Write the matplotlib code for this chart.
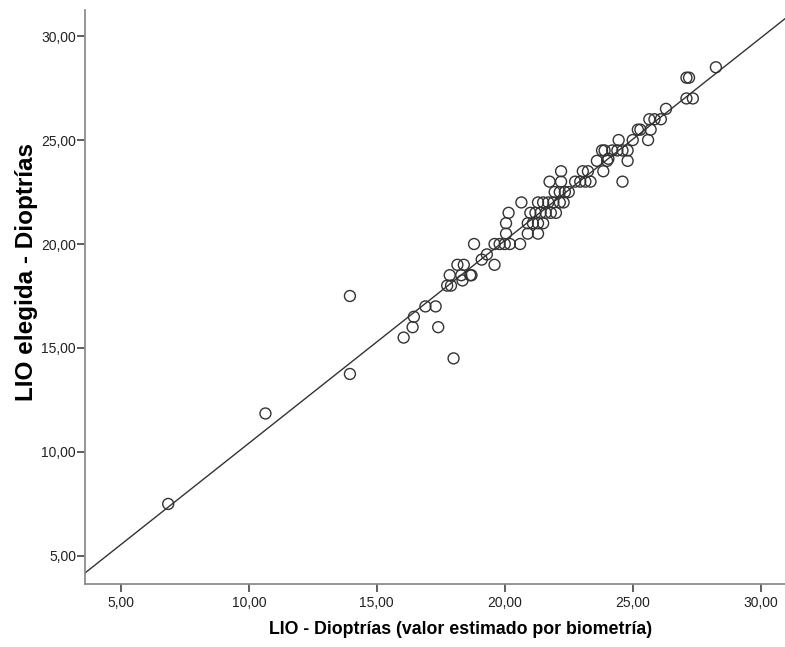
import numpy as np
import matplotlib.pyplot as plt
from matplotlib.ticker import FuncFormatter

plt.rcParams['font.family'] = ['Liberation Sans', 'DejaVu Sans']

# LIO estimated by biometry (x) vs. LIO chosen (y), in dioptres
lio_estimada = [
    6.85, 10.65, 13.95, 13.95, 16.05, 16.4, 16.45, 16.9, 17.3, 17.4,
    18.0, 17.75, 17.9, 17.85, 18.15, 18.3, 18.35, 18.4, 18.65, 18.7,
    18.8, 19.1, 19.3, 19.6, 19.6, 19.8, 20.0, 20.2, 20.6, 20.05,
    20.9, 21.3, 20.05, 20.9, 21.1, 21.3, 21.5, 20.15, 21.0, 21.2,
    21.4, 21.6, 21.8, 22.0, 20.65, 21.3, 21.5, 21.7, 21.9, 22.15,
    22.3, 21.95, 22.15, 22.35, 22.5, 21.75, 22.2, 22.75, 22.95, 23.15,
    23.35, 22.2, 23.05, 23.25, 23.85, 24.6, 23.6, 24.0, 24.05, 24.8,
    23.8, 23.9, 24.2, 24.4, 24.6, 24.8, 24.45, 25.0, 25.6, 25.2,
    25.3, 25.7, 25.65, 25.85, 26.1, 26.3, 27.1, 27.35, 27.1, 27.2,
    28.25,
]
lio_elegida = [
    7.5, 11.85, 17.5, 13.75, 15.5, 16.0, 16.5, 17.0, 17.0, 16.0,
    14.5, 18.0, 18.0, 18.5, 19.0, 18.5, 18.25, 19.0, 18.5, 18.5,
    20.0, 19.25, 19.5, 19.0, 20.0, 20.0, 20.0, 20.0, 20.0, 20.5,
    20.5, 20.5, 21.0, 21.0, 21.0, 21.0, 21.0, 21.5, 21.5, 21.5,
    21.5, 21.5, 21.5, 21.5, 22.0, 22.0, 22.0, 22.0, 22.0, 22.0,
    22.0, 22.5, 22.5, 22.5, 22.5, 23.0, 23.0, 23.0, 23.0, 23.0,
    23.0, 23.5, 23.5, 23.5, 23.5, 23.0, 24.0, 24.0, 24.1, 24.0,
    24.5, 24.5, 24.5, 24.5, 24.5, 24.5, 25.0, 25.0, 25.0, 25.5,
    25.5, 25.5, 26.0, 26.0, 26.0, 26.5, 27.0, 27.0, 28.0, 28.0,
    28.5,
]

x = np.array(lio_estimada)
y = np.array(lio_elegida)

fig = plt.figure(figsize=(7.85, 6.47), dpi=100)
ax = fig.add_axes([0.1083, 0.0974, 0.8917, 0.887])

ax.scatter(x, y, s=62, facecolors='none', edgecolors='#333333',
           linewidths=1.0, zorder=3)

# linear fit line across the whole axis
slope, intercept = np.polyfit(x, y, 1)
xlim = (3.6, 30.95)
xs = np.array(xlim)
ax.plot(xs, slope * xs + intercept, color='#333333', lw=1.0, zorder=2)

ax.set_xlim(*xlim)
ax.set_ylim(3.65, 31.25)
ax.set_xticks([5, 10, 15, 20, 25, 30])
ax.set_yticks([5, 10, 15, 20, 25, 30])
fmt = FuncFormatter(lambda v, p: f'{v:.2f}'.replace('.', ','))
ax.xaxis.set_major_formatter(fmt)
ax.yaxis.set_major_formatter(fmt)

for side in ['top', 'right']:
    ax.spines[side].set_visible(False)
for side in ['left', 'bottom']:
    ax.spines[side].set_color('#8c8c8c')
    ax.spines[side].set_linewidth(1.3)

ax.tick_params(direction='out', length=6, width=1.1, color='#333333',
               labelsize=10, labelcolor='#222222')
ax.tick_params(axis='y', pad=0.5)
ax.tick_params(axis='x', pad=3)

ax.set_xlabel('LIO - Dioptrías (valor estimado por biometría)',
              fontsize=12.8, fontweight='bold')
ax.xaxis.set_label_coords(0.537, -0.064)
ax.set_ylabel('LIO elegida - Dioptrías', fontsize=17.5, fontweight='bold')
ax.yaxis.set_label_coords(-0.067, 0.544)

fig.savefig('out.png', dpi=100)
